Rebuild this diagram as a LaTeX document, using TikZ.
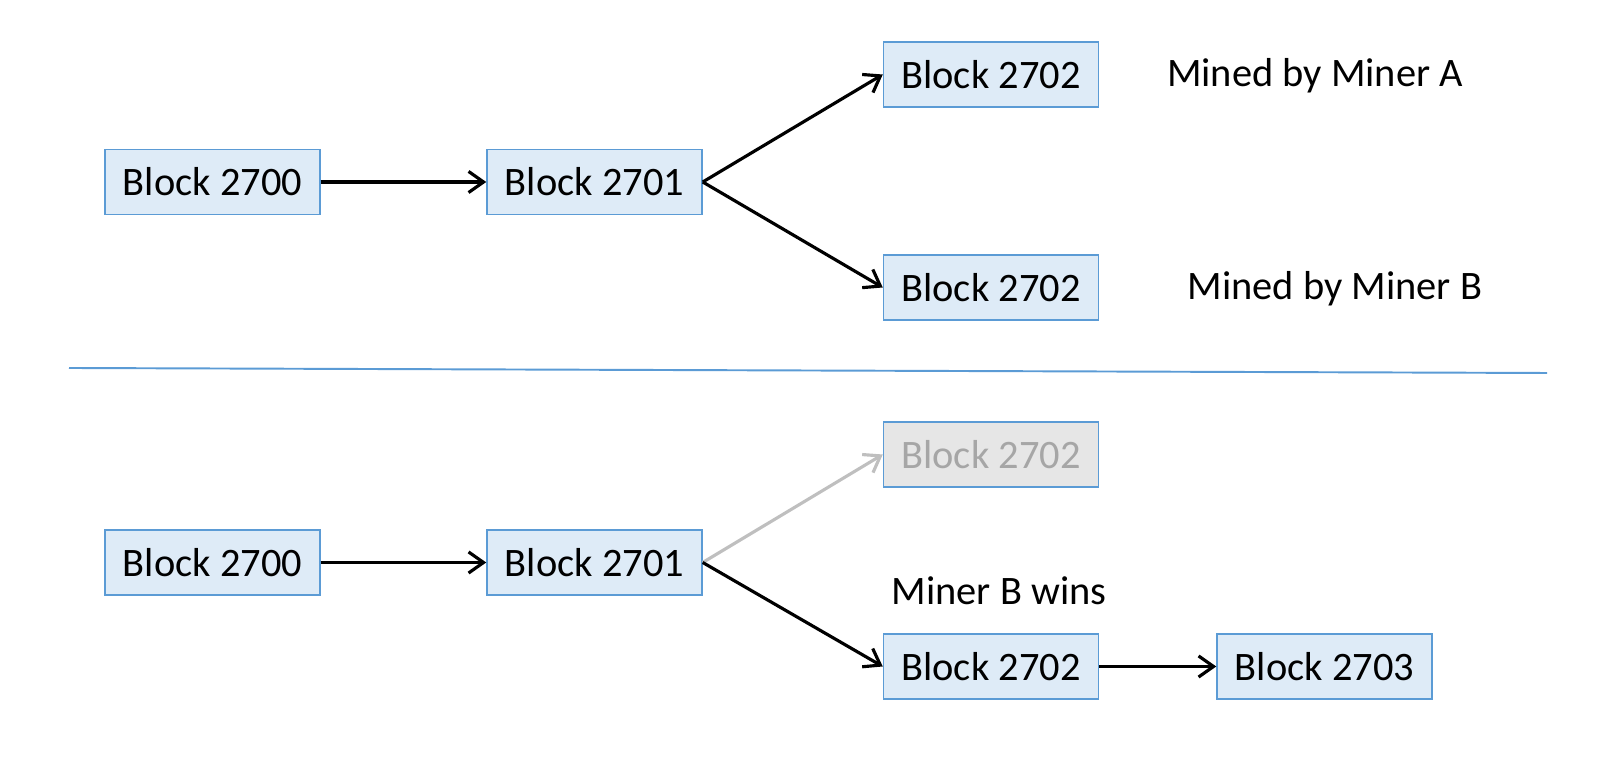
\documentclass[tikz,border=0pt]{standalone}
\usepackage{fontspec}
\setmainfont{Carlito}
\usetikzlibrary{arrows.meta}
\definecolor{boxfill}{RGB}{222,235,247}
\definecolor{boxline}{RGB}{91,155,213}
\definecolor{oldfill}{RGB}{230,230,230}
\definecolor{oldtext}{RGB}{166,166,166}
\definecolor{oldarrow}{RGB}{191,191,191}

\begin{document}
\begin{tikzpicture}[
        block/.style={draw=boxline, line width=0.85pt, fill=boxfill, minimum width=4.3cm, minimum height=1.3cm, inner sep=0pt, font=\fontsize{23}{28}\selectfont},
        orphan/.style={block, fill=oldfill, text=oldtext},
        note/.style={font=\fontsize{23}{28}\selectfont},
        link/.style={line width=1.8pt, -{Straight Barb[length=8.5pt, width=12pt, line width=1.8pt]}}
    ]
        \useasboundingbox (0, 0) rectangle (32, 15.16);

        % before the fork is settled
        \node[block] (topA) at (4.25, 11.52) {Block 2700};
        \node[block] (topB) at (11.89, 11.52) {Block 2701};
        \node[block] (topMinerA) at (19.82, 13.67) {Block 2702};
        \node[block] (topMinerB) at (19.82, 9.41) {Block 2702};
        \node[note] (labelA) at (26.3, 13.64) {Mined by Miner A};
        \node[note] (labelB) at (26.7, 9.38) {Mined by Miner B};

        \draw[link] (topA) -- (topB);
        \draw[link] (topB.east) -- (topMinerA.west);
        \draw[link] (topB.east) -- (topMinerB.west);

        % divider
        \coordinate (divL) at (1.38, 7.80);
        \coordinate (divR) at (30.94, 7.70);
        \draw[boxline, line width=1.1pt] (divL) -- (divR);

        % after Miner B wins
        \node[block] (botA) at (4.25, 3.91) {Block 2700};
        \node[block] (botB) at (11.89, 3.91) {Block 2701};
        \node[orphan] (botLost) at (19.82, 6.07) {Block 2702};
        \node[block] (botWon) at (19.82, 1.83) {Block 2702};
        \node[block] (botNext) at (26.49, 1.83) {Block 2703};
        \node[note] (labelWin) at (19.98, 3.34) {Miner B wins};

        \draw[link] (botA) -- (botB);
        \draw[link, oldarrow] (botB.east) -- (botLost.west);
        \draw[link] (botB.east) -- (botWon.west);
        \draw[link] (botWon) -- (botNext);
    \end{tikzpicture}
\end{document}
